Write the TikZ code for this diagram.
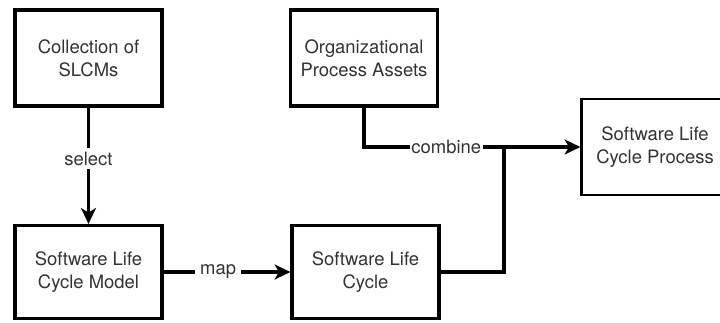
\documentclass[tikz,border=0pt]{standalone}
\usepackage{fontspec}
\setmainfont{TeX Gyre Heros}
\usetikzlibrary{arrows.meta}

\begin{document}
\begin{tikzpicture}[
    x=0.02cm, y=-0.02cm,
    box/.style={draw, line width=1.8pt, minimum width=2.94cm, minimum height=1.92cm, align=center, text=black!80, font=\fontsize{10.5}{12.9}\selectfont},
    lbl/.style={fill=white, inner sep=2pt, text=black!80, font=\fontsize{10.5}{12.9}\selectfont},
    arrow/.style={-{Stealth[length=9pt, width=8.5pt, inset=2.5pt]}, line width=1.9pt},
    line/.style={line width=1.9pt}
]

% Frame
\useasboundingbox (0,0) rectangle (720,322);
\clip (0,0) rectangle (720,322);

% Top row
\node[box] (coll) at (88.5,58) {Collection of\\SLCMs};
\node[box] (opa) at (364,58) {Organizational\\Process Assets};

% Bottom row
\node[box, minimum height=1.86cm] (slcm) at (88.5,272) {Software Life\\Cycle Model};
\node[box, minimum height=1.86cm] (slc) at (365.5,272) {Software Life\\Cycle};

% Result
\node[box, line width=1.2pt] (slcp) at (655,147) {Software Life\\Cycle Process};

% Arrows
\draw[arrow] (coll) -- node[lbl, pos=0.44] {select} (slcm);
\draw[arrow] (slcm) -- node[lbl, pos=0.43, inner sep=3pt] {map} (slc);
\draw[arrow] (opa.south) |- node[lbl, pos=0.69, inner sep=1pt] {combine} (slcp.west);
\coordinate (join) at (504,147);
\draw[line] (slc.east) -| (join);

\end{tikzpicture}
\end{document}
